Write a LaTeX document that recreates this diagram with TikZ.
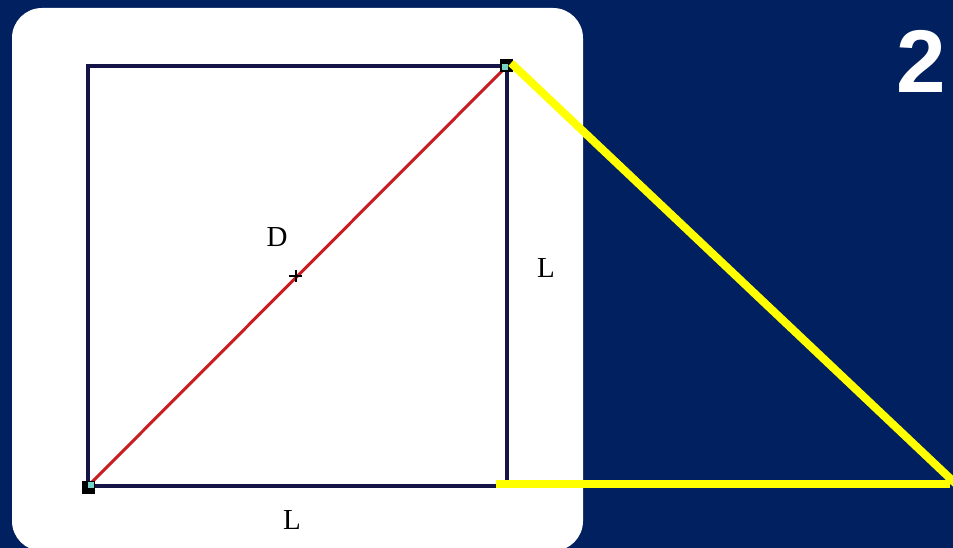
\documentclass[tikz,border=0pt]{standalone}
\usepackage{fontspec}
\setmainfont{Liberation Serif}
\newfontfamily\numfont{Liberation Sans}
\definecolor{bg}{RGB}{0,32,96}
\definecolor{sqcol}{RGB}{20,20,70}
\definecolor{diagred}{RGB}{200,30,35}
\definecolor{ylw}{RGB}{255,255,0}
\definecolor{cyanish}{RGB}{120,210,200}
\tikzset{
  sqline/.style={draw=sqcol, line width=3.4pt},
  diagline/.style={draw=diagred, line width=3pt},
  yline/.style={draw=ylw, line width=8pt},
  lbl/.style={font=\fontsize{29}{29}\selectfont, text=black, inner sep=0pt},
  cornerbox/.style={fill=black},
}
\begin{document}
\begin{tikzpicture}[x=1pt,y=-1pt]
\useasboundingbox (0,0) rectangle (953,548);
\fill[bg] (0,0) rectangle (953,548);
\fill[white, rounded corners=30pt] (12,8) rectangle (583,551);
% square corners
\coordinate (A) at (88,486);
\coordinate (B) at (507,486);
\coordinate (C) at (507,66);
\coordinate (Dd) at (88,66);
\draw[sqline] (Dd) -- (C) -- (B) -- (A) -- cycle;
\draw[diagline] (A) -- (C);
% midpoint mark
\coordinate (M) at (296,276);
\draw[black, line width=1.8pt] ([xshift=-7pt]M) -- ([xshift=6pt]M);
\draw[black, line width=1.8pt] ([yshift=-6pt]M) -- ([yshift=6pt]M);
% corner markers
\fill[cornerbox] (500,59) rectangle (513,72);
\fill[cyanish] (502,64) rectangle (508,70);
\fill[cornerbox] (82,481) rectangle (95,494);
\fill[cyanish] (88,482) rectangle (94,488);
% yellow triangle sides
\coordinate (Y1) at (511,63);
\coordinate (Y2) at (956,484);
\coordinate (Y3) at (496,484);
\coordinate (Y4) at (950,484);
\draw[yline] (Y1) -- (Y2);
\draw[yline] (Y3) -- (Y4);
% labels
\node[lbl] (labD) at (277,237) {D};
\node[lbl] (labL1) at (546,268) {L};
\node[lbl] (labL2) at (292,520) {L};
\node[inner sep=0pt, text=white, font=\numfont\bfseries\fontsize{89}{89}\selectfont] (num) at (921,61) {2};
\end{tikzpicture}
\end{document}
